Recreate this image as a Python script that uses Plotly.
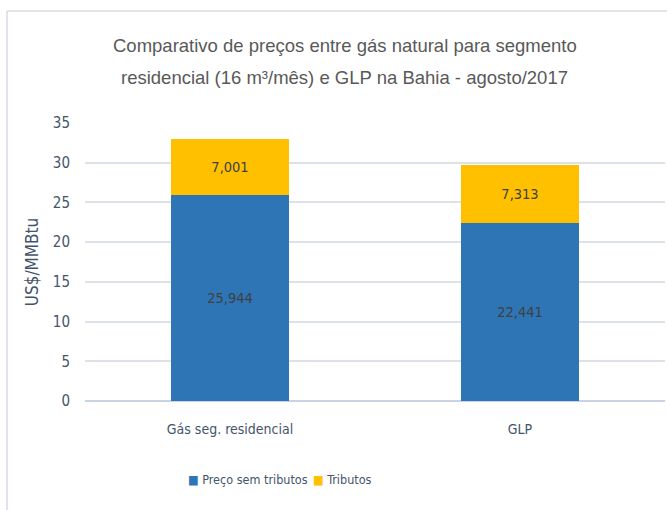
import plotly.graph_objects as go

categories = ["Gás seg. residencial", "GLP"]
preco_sem_tributos = [25.944, 22.441]
tributos = [7.001, 7.313]
y_ticks = [0, 5, 10, 15, 20, 25, 30, 35]
series_names = ["Preço sem tributos", "Tributos"]
series_colors = ["#2E75B6", "#FFC000"]
title_lines = [
    "Comparativo de preços entre gás natural para segmento",
    "residencial (16 m³/mês) e GLP na Bahia - agosto/2017",
]

narrow = "DejaVu Sans Condensed, sans-serif"
arial = "Liberation Sans, Arial, sans-serif"

fig = go.Figure()
for name, vals, col in zip(series_names, [preco_sem_tributos, tributos], series_colors):
    fig.add_trace(go.Bar(
        name=name, x=categories, y=vals,
        marker=dict(color=col, line=dict(width=0)),
        texttemplate="%{y:.3f}", textposition="inside", insidetextanchor="middle",
        textfont=dict(color="#404040", size=14.5, family=narrow),
        showlegend=False,
    ))

# chart-area frame (left and top edges)
frame = "#D6DCE5"
fig.add_shape(type="line", xref="paper", yref="paper",
              x0=-0.1345, x1=-0.1345, y0=-0.45, y1=1.403,
              line=dict(color=frame, width=1.5))
fig.add_shape(type="line", xref="paper", yref="paper",
              x0=-0.1345, x1=1.01, y0=1.403, y1=1.403,
              line=dict(color=frame, width=1.5))

# two-line chart title
for text, ypos in zip(title_lines, [1.277, 1.165]):
    fig.add_annotation(text=text, xref="paper", yref="paper", x=0.448, y=ypos,
                       xanchor="center", yanchor="middle", showarrow=False,
                       font=dict(family=arial, size=18.5, color="#595959"))

# legend row: coloured square + series name
for name, col, xpos in zip(series_names, series_colors, [0.1741, 0.389]):
    fig.add_annotation(
        text=f'<span style="color:{col}">■</span> {name}',
        xref="paper", yref="paper", x=xpos, y=-0.2806,
        xanchor="left", yanchor="middle", showarrow=False,
        font=dict(family=narrow, size=12.5, color="#44546A"),
    )

fig.update_layout(
    width=667, height=510,
    barmode="stack", bargap=0.596,
    separators=",.",
    paper_bgcolor="white", plot_bgcolor="white",
    margin=dict(l=85, r=2, t=123, b=109),
    font=dict(family=narrow, color="#595959"),
    showlegend=False,
)
fig.update_xaxes(
    showgrid=False, showline=False, ticks="", ticklabelstandoff=18,
    tickfont=dict(size=14, color="#44546A", family=narrow),
)
fig.update_yaxes(
    range=[0, 35], tickvals=y_ticks, showgrid=True,
    gridcolor="#DDE1E8", gridwidth=1.5, zeroline=True, zerolinecolor="#C9D3E3", zerolinewidth=1.5,
    ticks="", ticklabelstandoff=14,
    tickfont=dict(size=15, color="#44546A", family=narrow),
    title=dict(text="US$/MMBtu", font=dict(size=17, color="#44546A", family=narrow), standoff=9),
)

fig.write_html("out.html")
